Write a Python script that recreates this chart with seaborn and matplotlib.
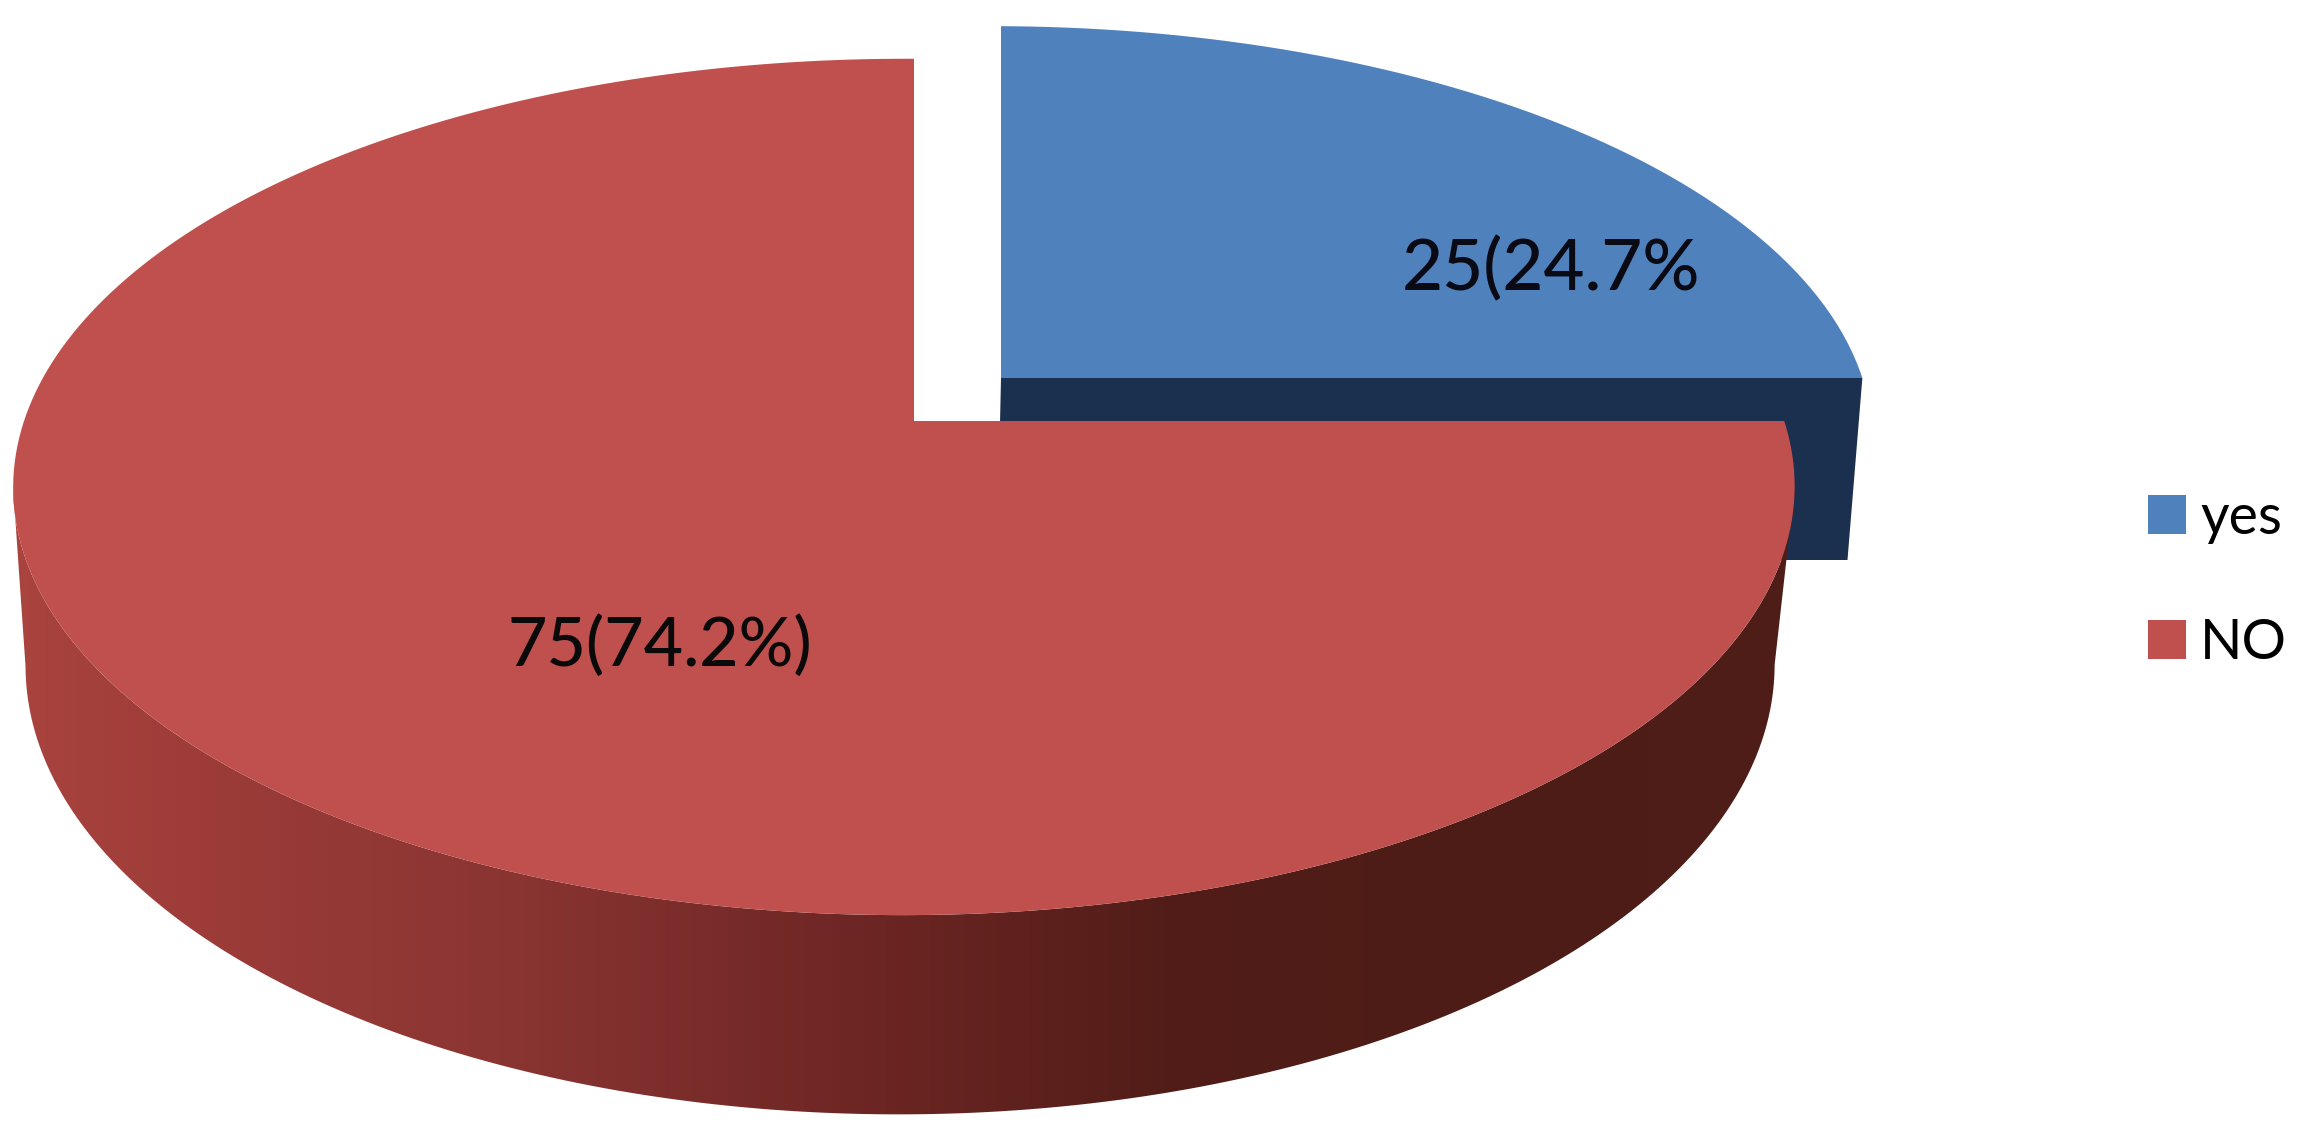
import numpy as np
import seaborn as sns
import matplotlib.pyplot as plt
from matplotlib.path import Path
from matplotlib.patches import PathPatch
from matplotlib.transforms import Transform

categories = ["yes", "NO"]
counts = [25, 75]
slice_labels = ["25(24.7%", "75(74.2%)"]
slice_colors = ["#4F81BD", "#C0504D"]

# side wall of the red slice, left to right
wall_colors = ["#A8433E", "#9D3C39", "#8A3532", "#702725", "#521D18", "#4D1C16", "#4F1E18"]
wall_stops = [30, 200, 500, 830, 1163, 1495, 1800]
blue_wall = "#1B2F4F"


class Tilt(Transform):
    # perspective view of the flat pie, result is in picture pixels
    input_dims = 2
    output_dims = 2

    def __init__(self, x0, y0, a, b, k=0.154, m=0.0112):
        super().__init__()
        self.x0, self.y0, self.a, self.b, self.k, self.m = x0, y0, a, b, k, m

    def transform_non_affine(self, xy):
        xy = np.asarray(xy, dtype=float)
        w = 1 + self.k * xy[:, 1] + self.m * xy[:, 0]
        return np.column_stack((self.x0 + self.a * xy[:, 0] / w, self.y0 - self.b * xy[:, 1] / w))

    def transform_path_non_affine(self, path):
        # flatten at large scale, the unit circle alone gives a coarse polygon
        big = Path(path.vertices * 2000, path.codes)
        poly = big.to_polygons(closed_only=False)[0] / 2000
        return Path(self.transform_non_affine(poly))


sns.set_theme(style="white")
plt.rcParams["font.family"] = ["Lato", "DejaVu Sans"]

fig = plt.figure(figsize=(23.03, 11.47), dpi=100)
ax = fig.add_axes([0, 0, 1, 1])

wedges, _ = ax.pie(counts, colors=slice_colors, startangle=90, counterclock=False, radius=1,
                   wedgeprops={"linewidth": 0})
ax.set_aspect("auto")
ax.set_xlim(0, 2303)
ax.set_ylim(1147, 0)
ax.axis("off")

red_top = Tilt(914, 421, 880, 418)
red_bottom = Tilt(910, 596, 864, 438.5)
blue_top = Tilt(1001, 378, 871, 406)
blue_bottom = Tilt(997, 560, 860, 426)

wedges[0].set_transform(blue_top + ax.transData)
wedges[1].set_transform(red_top + ax.transData)
wedges[0].set_zorder(3)
wedges[1].set_zorder(5)

# blue front wall, mostly hidden behind the red slice
front = np.vstack((blue_top.transform(np.array([[0, 0], [1, 0]])),
                   blue_bottom.transform(np.array([[1, 0], [0, 0]]))))
ax.fill(front[:, 0], front[:, 1], color=blue_wall, lw=0, zorder=2)

# red side wall, gradient clipped to the rim
theta = np.radians(np.linspace(188.9, 351.1, 200))
rim = np.column_stack((np.cos(theta), np.sin(theta)))
wall = np.vstack((red_top.transform(rim), red_bottom.transform(rim)[::-1]))
clip = PathPatch(Path(wall), transform=ax.transData, fc="none", ec="none")
ax.add_patch(clip)

xs = np.arange(2303)
rgb = np.array(sns.color_palette(wall_colors))
grad = np.array([np.interp(xs, wall_stops, rgb[:, i]) for i in range(3)]).T
img = ax.imshow(grad[np.newaxis, :, :], extent=(0, 2303, 1147, 0), aspect="auto", zorder=4)
img.set_clip_path(clip)
ax.set_xlim(0, 2303)
ax.set_ylim(1147, 0)

ax.text(1551, 290, slice_labels[0], fontsize=51, fontweight="medium", color="#0A0A14",
        ha="center", va="baseline", zorder=6)
ax.text(660, 666, slice_labels[1], fontsize=49, fontweight="medium", color="#0A0A0A",
        ha="center", va="baseline", zorder=6)

ax.legend(wedges, categories, loc="upper left", bbox_to_anchor=(2098 / 2303, 1 - 443 / 1147),
          frameon=False, fontsize=40, handlelength=0.68, handleheight=0.68,
          handletextpad=0.26, labelspacing=1.33, labelcolor="black")

plt.savefig("out.png", dpi=100)
plt.close()
